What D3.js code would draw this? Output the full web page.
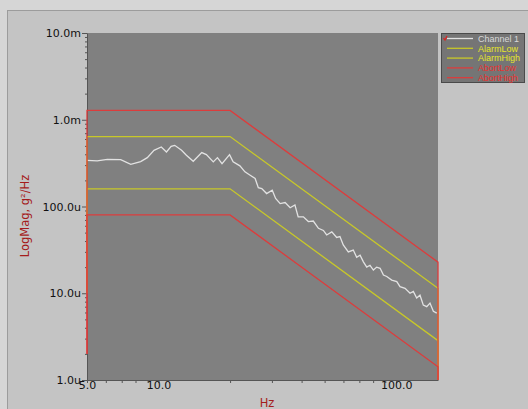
<!DOCTYPE html>
<html>
<head>
<meta charset="utf-8">
<script src="https://cdn.jsdelivr.net/npm/d3@7"></script>
<style>
  body { margin: 0; background: #d6d6d6; }
  svg { display: block; font-family: "DejaVu Sans", Verdana, sans-serif; }
</style>
</head>
<body>
<div id="chart"></div>
<script>
// chart values
var chanFreq = [5.0, 5.52, 6.09, 6.93, 7.64, 8.41, 8.97, 9.57, 10.27, 10.8, 11.3, 11.7, 12.5, 13.1, 14.0,
  15.2, 15.9, 17.0, 17.7, 18.5, 19.9, 20.6, 22.0, 23.1, 24.3, 25.5, 26.3, 27.2, 28.5, 30.1, 31.1,
  32.5, 34.1, 35.8, 37.5, 38.7, 40.7, 42.7, 44.8, 47.1, 49.4, 51.0, 53.6, 56.2, 58.0, 59.9, 62.9,
  66.0, 68.2, 70.5, 72.8, 75.2, 77.6, 80.2, 82.8, 85.6, 88.4, 91.3, 95.8, 100.6, 103.8, 109, 114.4,
  118.1, 122, 126, 130.1, 134.5, 138.8, 143.4, 148.2];
var chanVal = [340, 335, 350, 347, 306, 329, 366, 444, 485, 425, 493, 507, 444, 389, 332,
  418, 396, 327, 366, 312, 396, 327, 294, 251, 229, 210, 165, 161, 141, 154, 124,
  108, 111, 96.6, 104, 76, 76, 67, 68, 56, 53, 47, 51, 44, 45, 36, 30,
  31.5, 26, 27.5, 23, 20, 21, 18.5, 20, 19.4, 16.2, 15.6, 14.2, 13.6, 11.9, 11.4, 10,
  10.5, 8.8, 9.5, 7.3, 7.0, 7.7, 6.2, 5.9].map(function(v) { return v * 1e-6; });

var limitFreq = [5, 5, 20, 150, 150];
var alarmLow = [10e-6, 160e-6, 160e-6, 2.84e-6, 1e-6];
var alarmHigh = [10e-6, 640e-6, 640e-6, 11.4e-6, 1e-6];
var abortLow = [2e-6, 80e-6, 80e-6, 1.42e-6, 1e-6];
var abortHigh = [2e-6, 1.28e-3, 1.28e-3, 22.8e-6, 1e-6];

var yMajor = [1e-6, 1e-5, 1e-4, 1e-3, 1e-2];
var yLabels = ["1.0u", "10.0u", "100.0u", "1.0m", "10.0m"];
var xMajor = [5, 10, 100];
var xLabels = ["5.0", "10.0", "100.0"];
var legendNames = ["Channel 1", "AlarmLow", "AlarmHigh", "AbortLow", "AbortHigh"];

var W = 528, H = 409;
var red = "#dc3c3c", yellow = "#c8c828", white = "#e2e2e2";

var svg = d3.select("#chart").append("svg")
  .attr("width", W).attr("height", H);

// panel
svg.append("rect").attr("x", 7.5).attr("y", 10.5).attr("width", W).attr("height", H)
  .attr("fill", "#c4c4c4").attr("stroke", "#9c9c9c");

var x = d3.scaleLog().domain([5, 150]).range([87, 438]);
var y = d3.scaleLog().domain([1e-6, 1e-2]).range([380, 33]);

svg.append("rect")
  .attr("x", x(5)).attr("y", y(1e-2))
  .attr("width", x(150) - x(5)).attr("height", y(1e-6) - y(1e-2))
  .attr("fill", "#808080");

// minor ticks
var yMinor = [];
yMajor.slice(0, 4).forEach(function(d) {
  for (var k = 2; k < 10; k++) yMinor.push(d * k);
});
var xMinor = [6, 7, 8, 9, 20, 30, 40, 50, 60, 70, 80, 90];

svg.append("g").attr("transform", "translate(" + x(5) + ",0)")
  .call(d3.axisLeft(y).tickValues(yMinor).tickSize(2).tickFormat(""))
  .call(function(g) { g.select(".domain").remove(); });

svg.append("g").attr("transform", "translate(0," + y(1e-6) + ")")
  .call(d3.axisBottom(x).tickValues(xMinor).tickSize(3).tickFormat(""))
  .call(function(g) { g.select(".domain").remove(); });

var yAxis = svg.append("g").attr("transform", "translate(" + x(5) + ",0)")
  .call(d3.axisLeft(y).tickValues(yMajor).tickSize(5).tickSizeOuter(0).tickPadding(1)
    .tickFormat(function(d, i) { return yLabels[i]; }));

var xAxis = svg.append("g").attr("transform", "translate(0," + y(1e-6) + ")")
  .call(d3.axisBottom(x).tickValues(xMajor).tickSize(3).tickSizeOuter(0).tickPadding(0)
    .tickFormat(function(d, i) { return xLabels[i]; }));

svg.selectAll(".tick line").attr("stroke", "#555");
svg.selectAll(".domain").attr("stroke", "#555");
svg.selectAll(".tick text").attr("fill", "#111").style("font-size", "11px")
  .style("font-family", "DejaVu Sans, sans-serif");
xAxis.selectAll(".tick text").attr("dy", "0.55em");

// lines
var line = d3.line()
  .x(function(d) { return x(d[0]); })
  .y(function(d) { return y(d[1]); });

function zipped(fs, vs) { return fs.map(function(f, i) { return [f, vs[i]]; }); }

var plot = svg.append("g");
plot.append("path").datum(zipped(chanFreq, chanVal))
  .attr("d", line).attr("fill", "none").attr("stroke", white).attr("stroke-width", 1.3);

[[alarmLow, yellow], [alarmHigh, yellow], [abortLow, red], [abortHigh, red]].forEach(function(s) {
  plot.append("path").datum(zipped(limitFreq, s[0]))
    .attr("d", line).attr("fill", "none").attr("stroke", s[1]).attr("stroke-width", 1.3);
});

// axis titles
svg.append("text")
  .attr("transform", "translate(29,216) rotate(-90)")
  .attr("text-anchor", "middle")
  .attr("fill", "#a51c1c").style("font-size", "11.5px")
  .text("LogMag, g\u00b2/Hz");

svg.append("text")
  .attr("x", 267).attr("y", 407)
  .attr("text-anchor", "middle")
  .attr("fill", "#a51c1c").style("font-size", "11.5px")
  .text("Hz");

// legend
var leg = svg.append("g");
leg.append("rect").attr("x", 441.5).attr("y", 33.5).attr("width", 83).attr("height", 49)
  .attr("fill", "#757575").attr("stroke", "#4a4a4a");
var legColors = [white, yellow, yellow, red, red];
var legText = ["#d8d8d8", "#e6e62a", "#e6e62a", "#e83030", "#e83030"];
legendNames.forEach(function(n, i) {
  var yy = 38.5 + i * 9.8;
  leg.append("line").attr("x1", 447).attr("x2", 473).attr("y1", yy).attr("y2", yy)
    .attr("stroke", legColors[i]).attr("stroke-width", 1.3);
  leg.append("text").attr("x", 478).attr("y", yy + 3.3)
    .attr("fill", legText[i]).style("font-size", "9px")
    .style("font-family", "Liberation Sans, Arial, sans-serif").text(n);
});
leg.append("path").attr("d", "M443.5,38 L445,40 L447,36")
  .attr("fill", "none").attr("stroke", "#e02020").attr("stroke-width", 1.2);
</script>
</body>
</html>
